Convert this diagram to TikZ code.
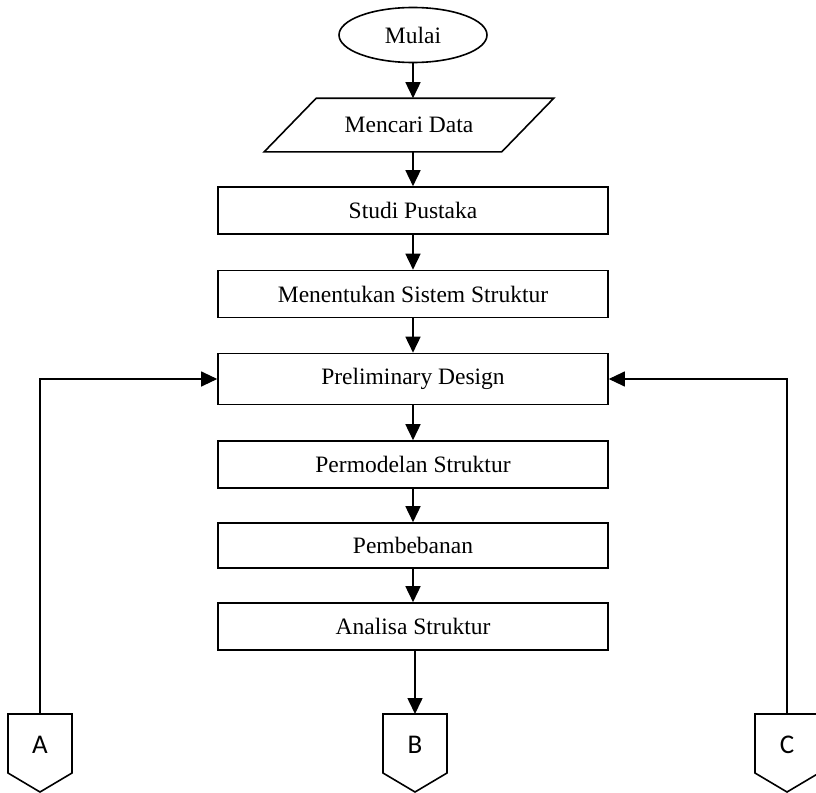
\documentclass[tikz,border=0pt]{standalone}
\usepackage{fontspec}
\setmainfont{Liberation Serif}
\newfontfamily\calib{Carlito}
\usetikzlibrary{shapes.geometric,arrows.meta}
\begin{document}
\begin{tikzpicture}[x=1pt,y=-1pt,line width=1.6pt,
    box/.style={draw,rectangle,minimum width=390,minimum height=47,inner sep=0,font=\fontsize{23.5}{25}\selectfont},
    term/.style={draw,ellipse,minimum width=148,minimum height=55,inner sep=0,font=\fontsize{23.5}{25}\selectfont},
    arr/.style={-{Triangle[length=16pt,width=15pt]}}]
    \useasboundingbox (0,0) rectangle (816,792);
    \node[term] (mulai) at (413,35) {Mulai};
    \node[inner sep=0,minimum width=236,minimum height=52,font=\fontsize{23.5}{25}\selectfont] (data) at (409,125) {Mencari Data};
    \draw ([xshift=-26]data.south west) -- ([xshift=26]data.north west) -- ([xshift=26]data.north east) -- ([xshift=-26]data.south east) -- cycle;
    \node[box] (studi) at (413,210.5) {Studi Pustaka};
    \node[box] (sistem) at (413,294) {Menentukan Sistem Struktur};
    \node[box,minimum height=51] (prelim) at (413,379) {Preliminary Design};
    \node[box] (model) at (413,464.5) {Permodelan Struktur};
    \node[box,minimum height=45] (beban) at (413,545.5) {Pembebanan};
    \node[box] (analisa) at (413,626.5) {Analisa Struktur};
    % connectors A, B, C
    \foreach \nm/\xx in {A/40,B/415,C/787}
    {
    \draw (\xx-32,714) -- (\xx+32,714) -- (\xx+32,773) -- (\xx,792) -- (\xx-32,773) -- cycle;
    \coordinate (\nm) at (\xx,714);
    \node[font=\calib\fontsize{27}{29}\selectfont] at (\xx,745) {\nm};
    }
    \draw[arr] (mulai) -- (mulai |- data.north);
    \draw[arr] (data.south -| studi) -- (studi);
    \draw[arr] (studi) -- (sistem);
    \draw[arr] (sistem) -- (prelim);
    \draw[arr] (prelim) -- (model);
    \draw[arr] (model) -- (beban);
    \draw[arr] (beban) -- (analisa);
    \draw[arr] (analisa.south -| B) -- (B);
    \draw[arr,line width=1.1pt] (A) |- (prelim.west);
    \draw[arr,line width=1.1pt] (C) |- (prelim.east);
\end{tikzpicture}
\end{document}
